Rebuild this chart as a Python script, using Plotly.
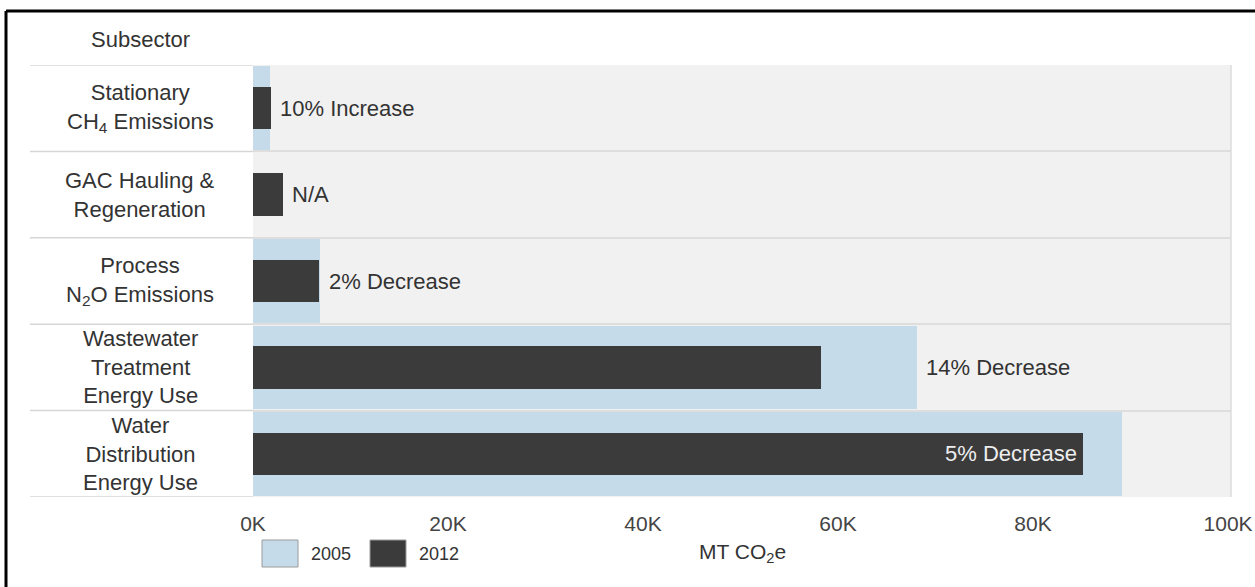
import plotly.graph_objects as go

# ---- data ----
subsectors = [
    "Stationary<br>CH<sub>4</sub> Emissions",
    "GAC Hauling &<br>Regeneration",
    "Process<br>N<sub>2</sub>O Emissions",
    "Wastewater<br>Treatment<br>Energy Use",
    "Water<br>Distribution<br>Energy Use",
]
series_names = ["2005", "2012"]
values_2005 = [1700, 0, 6900, 68100, 89100]
values_2012 = [1850, 3100, 6750, 58300, 85100]
change_labels = ["10% Increase", "N/A", "2% Decrease", "14% Decrease", "5% Decrease"]
tick_values = [0, 20000, 40000, 60000, 80000, 100000]
tick_labels = ["0K", "20K", "40K", "60K", "80K", "100K"]
x_max = 100300

FONT = "Liberation Sans, Arial, sans-serif"
LIGHT = "#c6dbe9"
DARK = "#3b3b3b"
TXT = "#333333"
colors = [LIGHT, DARK]
LBL = 22

# plot-area geometry in pixels (for paper-coordinate conversions)
L, R, T, B, W, H = 253, 24, 65, 90, 1255, 587
PW, PH = W - L - R, H - T - B
def px(x):
    return (x - L) / PW
def py(y):
    return (H - B - y) / PH

cats = list(range(len(subsectors)))

fig = go.Figure()
fig.add_trace(go.Bar(
    y=cats, x=values_2005, orientation="h", name=series_names[0],
    marker=dict(color=colors[0], line=dict(width=0)), width=0.97,
    hoverinfo="x+name", showlegend=False,
))
fig.add_trace(go.Bar(
    y=cats, x=values_2012, orientation="h", name=series_names[1],
    marker=dict(color=colors[1], line=dict(width=0)), width=0.49,
    hoverinfo="x+name", showlegend=False,
))

annotations = []
# category labels (left header column)
for i, lab in enumerate(subsectors):
    annotations.append(dict(
        x=px(140), xref="paper", y=i, yref="y", text=lab, showarrow=False,
        xanchor="center", yanchor="middle", align="center",
        font=dict(family=FONT, size=LBL, color=TXT),
    ))
annotations.append(dict(
    x=px(140), xref="paper", y=py(40), yref="paper", text="Subsector",
    showarrow=False, xanchor="center", yanchor="middle",
    font=dict(family=FONT, size=LBL, color=TXT),
))
# change labels
for i, (a, b, t) in enumerate(zip(values_2005, values_2012, change_labels)):
    end = max(a, b)
    if end > 0.8 * x_max:
        annotations.append(dict(
            x=b, y=i, xref="x", yref="y", text=t, showarrow=False,
            xanchor="right", yanchor="middle", xshift=-4,
            font=dict(family=FONT, size=LBL, color="#eeeeee"),
        ))
    else:
        annotations.append(dict(
            x=end, y=i, xref="x", yref="y", text=t, showarrow=False,
            xanchor="left", yanchor="middle", xshift=7,
            font=dict(family=FONT, size=LBL, color=TXT),
        ))
# x axis title
annotations.append(dict(
    x=px(742), xref="paper", y=py(553), yref="paper", text="MT CO<sub>2</sub>e",
    showarrow=False, xanchor="center", yanchor="middle",
    font=dict(family=FONT, size=21, color=TXT),
))

shapes = []
# custom legend
for k, (nm, col) in enumerate(zip(series_names, colors)):
    x0 = 262 + 108 * k
    shapes.append(dict(type="rect", xref="paper", yref="paper",
                       x0=px(x0), x1=px(x0 + 36), y0=py(567), y1=py(540),
                       fillcolor=col, line=dict(color="#9a9a9a", width=1)))
    annotations.append(dict(x=px(x0 + 47), xref="paper", y=py(554), yref="paper",
                            text=nm, showarrow=False, xanchor="left", yanchor="middle",
                            font=dict(family=FONT, size=18, color=TXT)))
# separator lines in header column
for k in range(len(subsectors) + 1):
    shapes.append(dict(
        type="line", xref="paper", yref="y", x0=px(30), x1=0,
        y0=k - 0.5, y1=k - 0.5, line=dict(color="#d6d6d6", width=1.5),
    ))
# panel border (right side)
shapes.append(dict(type="line", xref="paper", yref="paper", x0=1, x1=1, y0=0, y1=1,
                   line=dict(color="#dcdcdc", width=1.5)))
# outer black frame (top & left)
shapes.append(dict(type="line", xref="paper", yref="paper", x0=px(6), x1=px(1260),
                   y0=py(11), y1=py(11), line=dict(color="black", width=3)))
shapes.append(dict(type="line", xref="paper", yref="paper", x0=px(6), x1=px(6),
                   y0=py(11), y1=py(600), line=dict(color="black", width=3)))

fig.update_layout(
    width=W, height=H,
    margin=dict(l=L, r=R, t=T, b=B, autoexpand=False),
    paper_bgcolor="white", plot_bgcolor="#f1f1f1",
    barmode="overlay", bargap=0,
    showlegend=False,
    xaxis=dict(range=[0, x_max], tickvals=tick_values, ticktext=tick_labels,
               showgrid=False, zeroline=False, showline=False, ticks="",
               ticklabelstandoff=12, automargin=False,
               tickfont=dict(family=FONT, size=21, color="#444444")),
    yaxis=dict(type="category", tickvals=cats, range=[len(cats) - 0.5, -0.5],
               showticklabels=False, ticks="", tickson="boundaries",
               showgrid=True, gridcolor="#dedede", gridwidth=2,
               zeroline=False, showline=False, automargin=False),
    annotations=annotations, shapes=shapes,
    font=dict(family=FONT),
)

fig.write_html("out.html")
